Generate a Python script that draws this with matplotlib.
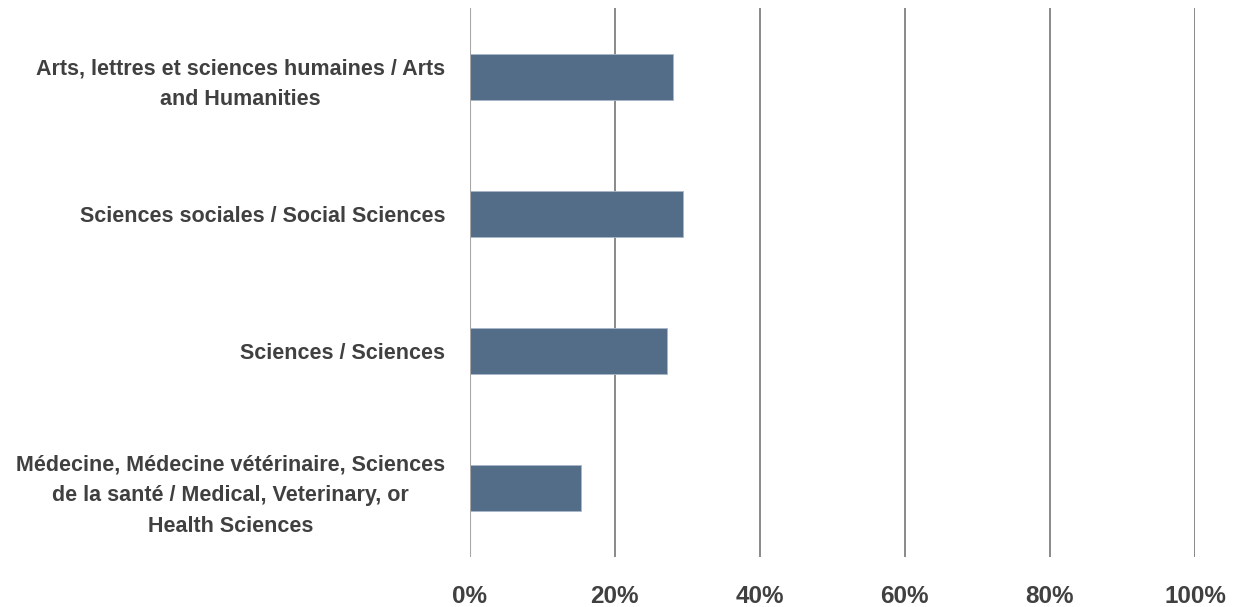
import matplotlib.pyplot as plt

categories = [
    "Arts, lettres et sciences humaines / Arts\nand Humanities",
    "Sciences sociales / Social Sciences",
    "Sciences / Sciences",
    "Médecine, Médecine vétérinaire, Sciences\nde la santé / Medical, Veterinary, or\nHealth Sciences",
]
values = [28.1, 29.4, 27.2, 15.4]
ticks = [0, 20, 40, 60, 80, 100]
tick_labels = ["0%", "20%", "40%", "60%", "80%", "100%"]

fig = plt.figure(figsize=(12.34, 6.07), dpi=100)
ax = fig.add_axes([0.3806, 0.0824, 0.5878, 0.9044])

ypos = list(range(len(categories)))[::-1]
ax.barh(ypos, values, height=0.335, color="#536D88", edgecolor="#A9B8C8", linewidth=0.6, zorder=3)

ax.set_xlim(0, 100)
ax.set_ylim(-0.5, 3.5)
ax.set_xticks(ticks)
ax.set_xticklabels(tick_labels, fontfamily="Liberation Sans", fontweight="bold", fontsize=17.5, color="#404040")
ax.set_yticks(ypos)
ax.set_yticklabels(categories, fontfamily="Liberation Sans", fontweight="bold", fontsize=15.5,
                   color="#404040", linespacing=1.6, multialignment="center")
ax.tick_params(axis="x", length=0, pad=20)
ax.tick_params(axis="y", length=0, pad=17.5)

for t in ticks[1:]:
    ax.axvline(t, color="#808080", linewidth=1.3, zorder=1)
ax.axvline(0, color="#A6A6A6", linewidth=1.5, zorder=4)

for s in ax.spines.values():
    s.set_visible(False)

fig.savefig("out.png", dpi=100)
